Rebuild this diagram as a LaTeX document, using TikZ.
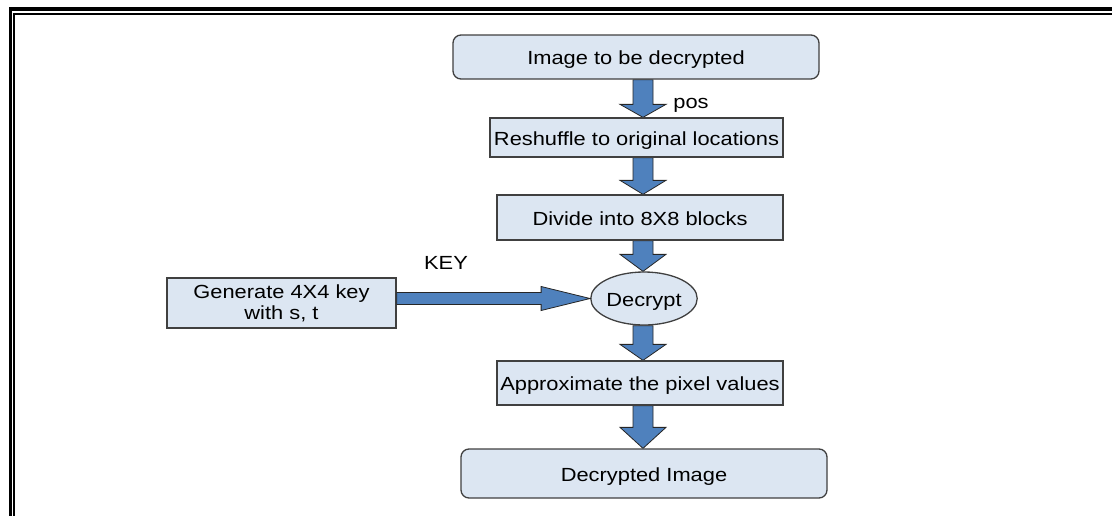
\documentclass[tikz,border=0pt]{standalone}
\usepackage{fontspec}
\setmainfont[FakeStretch=1.15]{Liberation Sans}
\usetikzlibrary{calc,shapes.geometric,backgrounds}
\definecolor{boxfill}{HTML}{DCE6F2}
\definecolor{arrfill}{HTML}{4F81BD}
\definecolor{boxline}{HTML}{404040}
\tikzset{
  box/.style={draw=boxline, line width=1.3pt, fill=boxfill, inner sep=0pt,
    font=\fontsize{19}{21}\selectfont, align=center},
  one/.style={text height=15.6pt, text depth=0pt},
  rbox/.style={box, rounded corners=8pt},
  barrow/.style={fill=arrfill, draw=black!85, line width=0.8pt, line join=miter},
  lbl/.style={font=\fontsize{19}{21}\selectfont, inner sep=0pt},
  frameA/.style={line width=3.5pt, line join=miter},
  frameB/.style={line width=1.8pt, line join=miter},
}
\newcommand\varrow[3]{%
  \draw[barrow] let \p1=(#1.south), \p2=(#2.north) in
    (633pt,\y1) -- (633pt,\y2+#3pt) -- (620pt,\y2+#3pt) -- (643pt,\y2)
    -- (666pt,\y2+#3pt) -- (653pt,\y2+#3pt) -- (653pt,\y1) -- cycle;}
\begin{document}
\begin{tikzpicture}[x=1pt,y=-1pt]
\useasboundingbox (0,0) rectangle (1112,515);
\draw[frameA] (10.3,520) -- (10.3,8.8) -- (1120,8.8);
\draw[frameB] (14.2,520) -- (14.2,13.6) -- (1120,13.6);

\node[rbox, one, minimum width=366pt, minimum height=44pt] (b1) at (636,57) {Image to be decrypted};
\node[box, one, minimum width=293pt, minimum height=39pt] (b2) at (636.5,137.5) {Reshuffle to original locations};
\node[box, one, minimum width=286pt, minimum height=45pt] (b3) at (640,217.5) {Divide into 8X8 blocks};
\node[box, one, ellipse, minimum width=102pt, minimum height=53pt] (dec) at (644,298.5) {Decrypt};
\node[box, minimum width=229pt, minimum height=50pt] (gen) at (281.5,303) {Generate 4X4 key\\with s, t};
\node[box, one, minimum width=286pt, minimum height=44pt] (app) at (640,383) {Approximate the pixel values};
\node[rbox, one, minimum width=366pt, minimum height=49pt] (b4) at (644,473.5) {Decrypted Image};

\node[lbl] (pos) at (691,105) {pos};
\node[lbl] (key) at (446,263) {KEY};

\begin{scope}[on background layer]
\varrow{b1}{b2}{13}
\varrow{b2}{b3}{14}
\varrow{b3}{dec}{17}
\varrow{dec}{app}{16}
\varrow{app}{b4}{21}
\end{scope}
\draw[barrow] let \p1=(gen.east), \p2=(dec.west) in
  (\x1,\y2+6pt) -- (\x2-49pt,\y2+6pt) -- (\x2-49pt,\y2+12pt) -- (\x2,\y2)
  -- (\x2-49pt,\y2-12pt) -- (\x2-49pt,\y2-6pt) -- (\x1,\y2-6pt) -- cycle;
\end{tikzpicture}
\end{document}
